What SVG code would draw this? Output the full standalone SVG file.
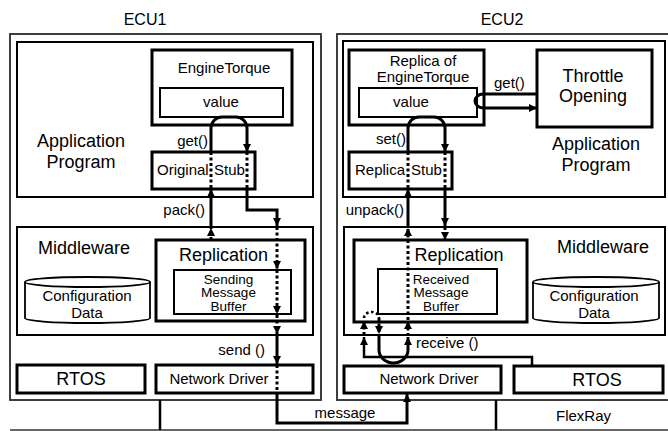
<svg xmlns="http://www.w3.org/2000/svg" width="668" height="431" viewBox="0 0 668 431">
<style>
text{font-family:"Liberation Sans",Arial,sans-serif;fill:#000}
.t15{font-size:15px}.t13{font-size:13.5px}.t18{font-size:18px}.t16{font-size:16px}
.c{text-anchor:middle}.e{text-anchor:end}
.ecu{fill:none;stroke:#2a2a2a;stroke-width:1.8}
.b2{fill:#fff;stroke:#000;stroke-width:2}
.b3{fill:#fff;stroke:#000;stroke-width:3}
.cyl{fill:#fff;stroke:#000;stroke-width:1.8}
.s{fill:none;stroke:#000;stroke-width:3}
.d{fill:none;stroke:#000;stroke-width:3;stroke-dasharray:3 2.5}
.bus{fill:none;stroke:#333;stroke-width:1.6}
</style>
<defs>
<marker id="ah" viewBox="0 0 8 8" refX="8" refY="4" markerWidth="8" markerHeight="8" markerUnits="userSpaceOnUse" orient="auto"><path d="M0,0 L8,4 L0,8 z" fill="#000"/></marker>
</defs>
<rect width="668" height="431" fill="#fff"/>

<g id="ecu1">
<text class="t16 c" x="145" y="25">ECU1</text>
<rect class="ecu" x="10" y="34" width="311" height="366"/>
</g>
<g id="ecu2">
<text class="t16 c" x="502" y="25">ECU2</text>
<rect class="ecu" x="337" y="34" width="340" height="366"/>
</g>

<g id="bus">
<line class="bus" x1="10" y1="430" x2="668" y2="430"/>
<line x1="160" y1="400" x2="160" y2="430" stroke="#000" stroke-width="2.5"/>
<line x1="496" y1="400" x2="496" y2="430" stroke="#000" stroke-width="2.5"/>
<text class="t15" x="556" y="421">FlexRay</text>
</g>

<g id="app1">
<rect class="b2" x="17" y="42" width="296" height="155"/>
<text class="t18 c" x="81" y="147">Application</text>
<text class="t18 c" x="81" y="168">Program</text>
</g>
<g id="engineTorque">
<rect class="b3" x="152" y="50" width="140" height="75"/>
<text class="t15 c" x="224" y="73">EngineTorque</text>
<rect class="b2" x="160" y="88" width="123" height="29"/>
<text class="t15 c" x="221" y="107">value</text>
</g>
<g id="originalStub">
<rect class="b3" x="152" y="152" width="103" height="37"/>
<text class="t15" x="157" y="175">Original</text>
<text class="t15" x="214" y="175">Stub</text>
</g>
<g id="mw1">
<rect class="b2" x="17" y="227" width="296" height="108"/>
<text class="t18" x="38" y="254">Middleware</text>
</g>
<g id="config1">
<path class="cyl" d="M25,282 V318 A62.5,5 0 0 0 150,318 V282"/>
<ellipse class="cyl" cx="87.5" cy="282" rx="62.5" ry="5"/>
<text class="t15 c" x="87" y="301">Configuration</text>
<text class="t15 c" x="87" y="318">Data</text>
</g>
<g id="replication1">
<rect class="b3" x="156" y="240" width="149" height="81"/>
<text class="t18 c" x="223.5" y="261">Replication</text>
<rect class="b2" x="174" y="270" width="117" height="44"/>
<text class="t13 c" x="228.5" y="283.5">Sending</text>
<text class="t13 c" x="228.5" y="297">Message</text>
<text class="t13 c" x="228.5" y="310.5">Buffer</text>
</g>
<g id="rtos1">
<rect class="b3" x="17" y="365" width="128" height="28"/>
<text class="t18 c" x="81" y="385">RTOS</text>
</g>
<g id="netdrv1">
<rect class="b3" x="156" y="365" width="157" height="28"/>
<text class="t15 c" x="219" y="384">Network Driver</text>
</g>

<g id="app2">
<rect class="b2" x="343" y="41" width="322" height="156"/>
<text class="t18 c" x="596" y="150">Application</text>
<text class="t18 c" x="596" y="171">Program</text>
</g>
<g id="replicaEngineTorque">
<rect class="b3" x="349" y="50" width="135" height="75"/>
<text class="t15 c" x="423" y="66">Replica of</text>
<text class="t15 c" x="423" y="82">EngineTorque</text>
<rect class="b2" x="359" y="88" width="118" height="29"/>
<text class="t15 c" x="411" y="107">value</text>
</g>
<g id="throttle">
<rect class="b3" x="537" y="50" width="115" height="77"/>
<text class="t18 c" x="593" y="82">Throttle</text>
<text class="t18 c" x="593" y="102">Opening</text>
</g>
<g id="replicaStub">
<rect class="b3" x="349" y="152" width="103" height="37"/>
<text class="t15" x="355" y="175">Replica</text>
<text class="t15" x="411" y="175">Stub</text>
</g>
<g id="mw2">
<rect class="b2" x="344" y="227" width="321" height="108"/>
<text class="t18" x="557" y="253">Middleware</text>
</g>
<g id="config2">
<path class="cyl" d="M533,282 V318 A63,5 0 0 0 659,318 V282"/>
<ellipse class="cyl" cx="596" cy="282" rx="63" ry="5"/>
<text class="t15 c" x="594" y="301">Configuration</text>
<text class="t15 c" x="594" y="318">Data</text>
</g>
<g id="replication2">
<rect class="b3" x="354" y="240" width="173" height="82"/>
<text class="t18 c" x="459" y="261">Replication</text>
<rect class="b2" x="378" y="269" width="119" height="45"/>
<text class="t13 c" x="441" y="283.5">Received</text>
<text class="t13 c" x="441" y="297">Message</text>
<text class="t13 c" x="441" y="310.5">Buffer</text>
</g>
<g id="netdrv2">
<rect class="b3" x="344" y="366" width="157" height="27"/>
<text class="t15 c" x="429" y="384">Network Driver</text>
</g>
<g id="rtos2">
<rect class="b3" x="514" y="366" width="149" height="27"/>
<text class="t18 c" x="597" y="386">RTOS</text>
</g>

<g id="connectors">
<path class="s" d="M211,152 V128 A11,11 0 0 1 222,117 H236 A11,11 0 0 1 247,128 V152" marker-end="url(#ah)"/>
<text class="t15 e" x="208" y="146">get()</text>
<line class="d" x1="211" y1="152" x2="211" y2="189"/>
<line class="d" x1="247" y1="152" x2="247" y2="189"/>
<path class="d" d="M211,240 V228" marker-end="url(#ah)"/>
<path class="s" d="M211,227 V189" marker-end="url(#ah)"/>
<text class="t15 e" x="205" y="215">pack()</text>
<path class="s" d="M247,189 V210 H277 V226" marker-end="url(#ah)"/>
<path class="d" d="M277,227 V269" marker-end="url(#ah)"/>
<path class="d" d="M277,270 V314" marker-end="url(#ah)"/>
<path class="d" d="M277,315 V334" marker-end="url(#ah)"/>
<path class="s" d="M277,335 V364" marker-end="url(#ah)"/>
<text class="t15 e" x="265" y="355">send ()</text>
<line class="d" x1="277" y1="365" x2="277" y2="393"/>
<path class="s" d="M277,393 V423 H407 V394" marker-end="url(#ah)"/>
<text class="t15 c" x="345" y="418">message</text>

<path class="s" d="M537,94 H483 A8,7 0 0 0 483,108 H537" marker-end="url(#ah)"/>
<text class="t15" x="494" y="88">get()</text>
<path class="s" d="M408,152 V128 A11,11 0 0 1 419,117 H434 A11,11 0 0 1 445,128 V152" marker-end="url(#ah)"/>
<text class="t15 e" x="406" y="144">set()</text>
<line class="d" x1="408" y1="152" x2="408" y2="189"/>
<line class="d" x1="445" y1="152" x2="445" y2="189"/>
<path class="s" d="M408,227 V189" marker-end="url(#ah)"/>
<path class="d" d="M408,320 V228" marker-end="url(#ah)"/>
<path class="d" d="M408,336 V321" marker-end="url(#ah)"/>
<text class="t15 e" x="404" y="215">unpack()</text>
<path class="s" d="M445,189 V226" marker-end="url(#ah)"/>
<path class="d" d="M445,227 V240" marker-end="url(#ah)"/>
<path fill="none" stroke="#000" stroke-width="2.5" d="M532,366 V357 H364 V337" marker-end="url(#ah)"/>
<path class="d" d="M364,335 V321" marker-end="url(#ah)"/>
<path fill="none" stroke="#000" stroke-width="2.5" stroke-dasharray="2.5 2.5" d="M364,318 A7.5,6 0 0 1 379,318"/>
<path class="d" d="M379,318 V334" marker-end="url(#ah)"/>
<path class="s" d="M379,335 V350 A14.5,13 0 0 0 408,350 V337" marker-end="url(#ah)"/>
<text class="t15" x="416" y="348">receive ()</text>
</g>
</svg>
